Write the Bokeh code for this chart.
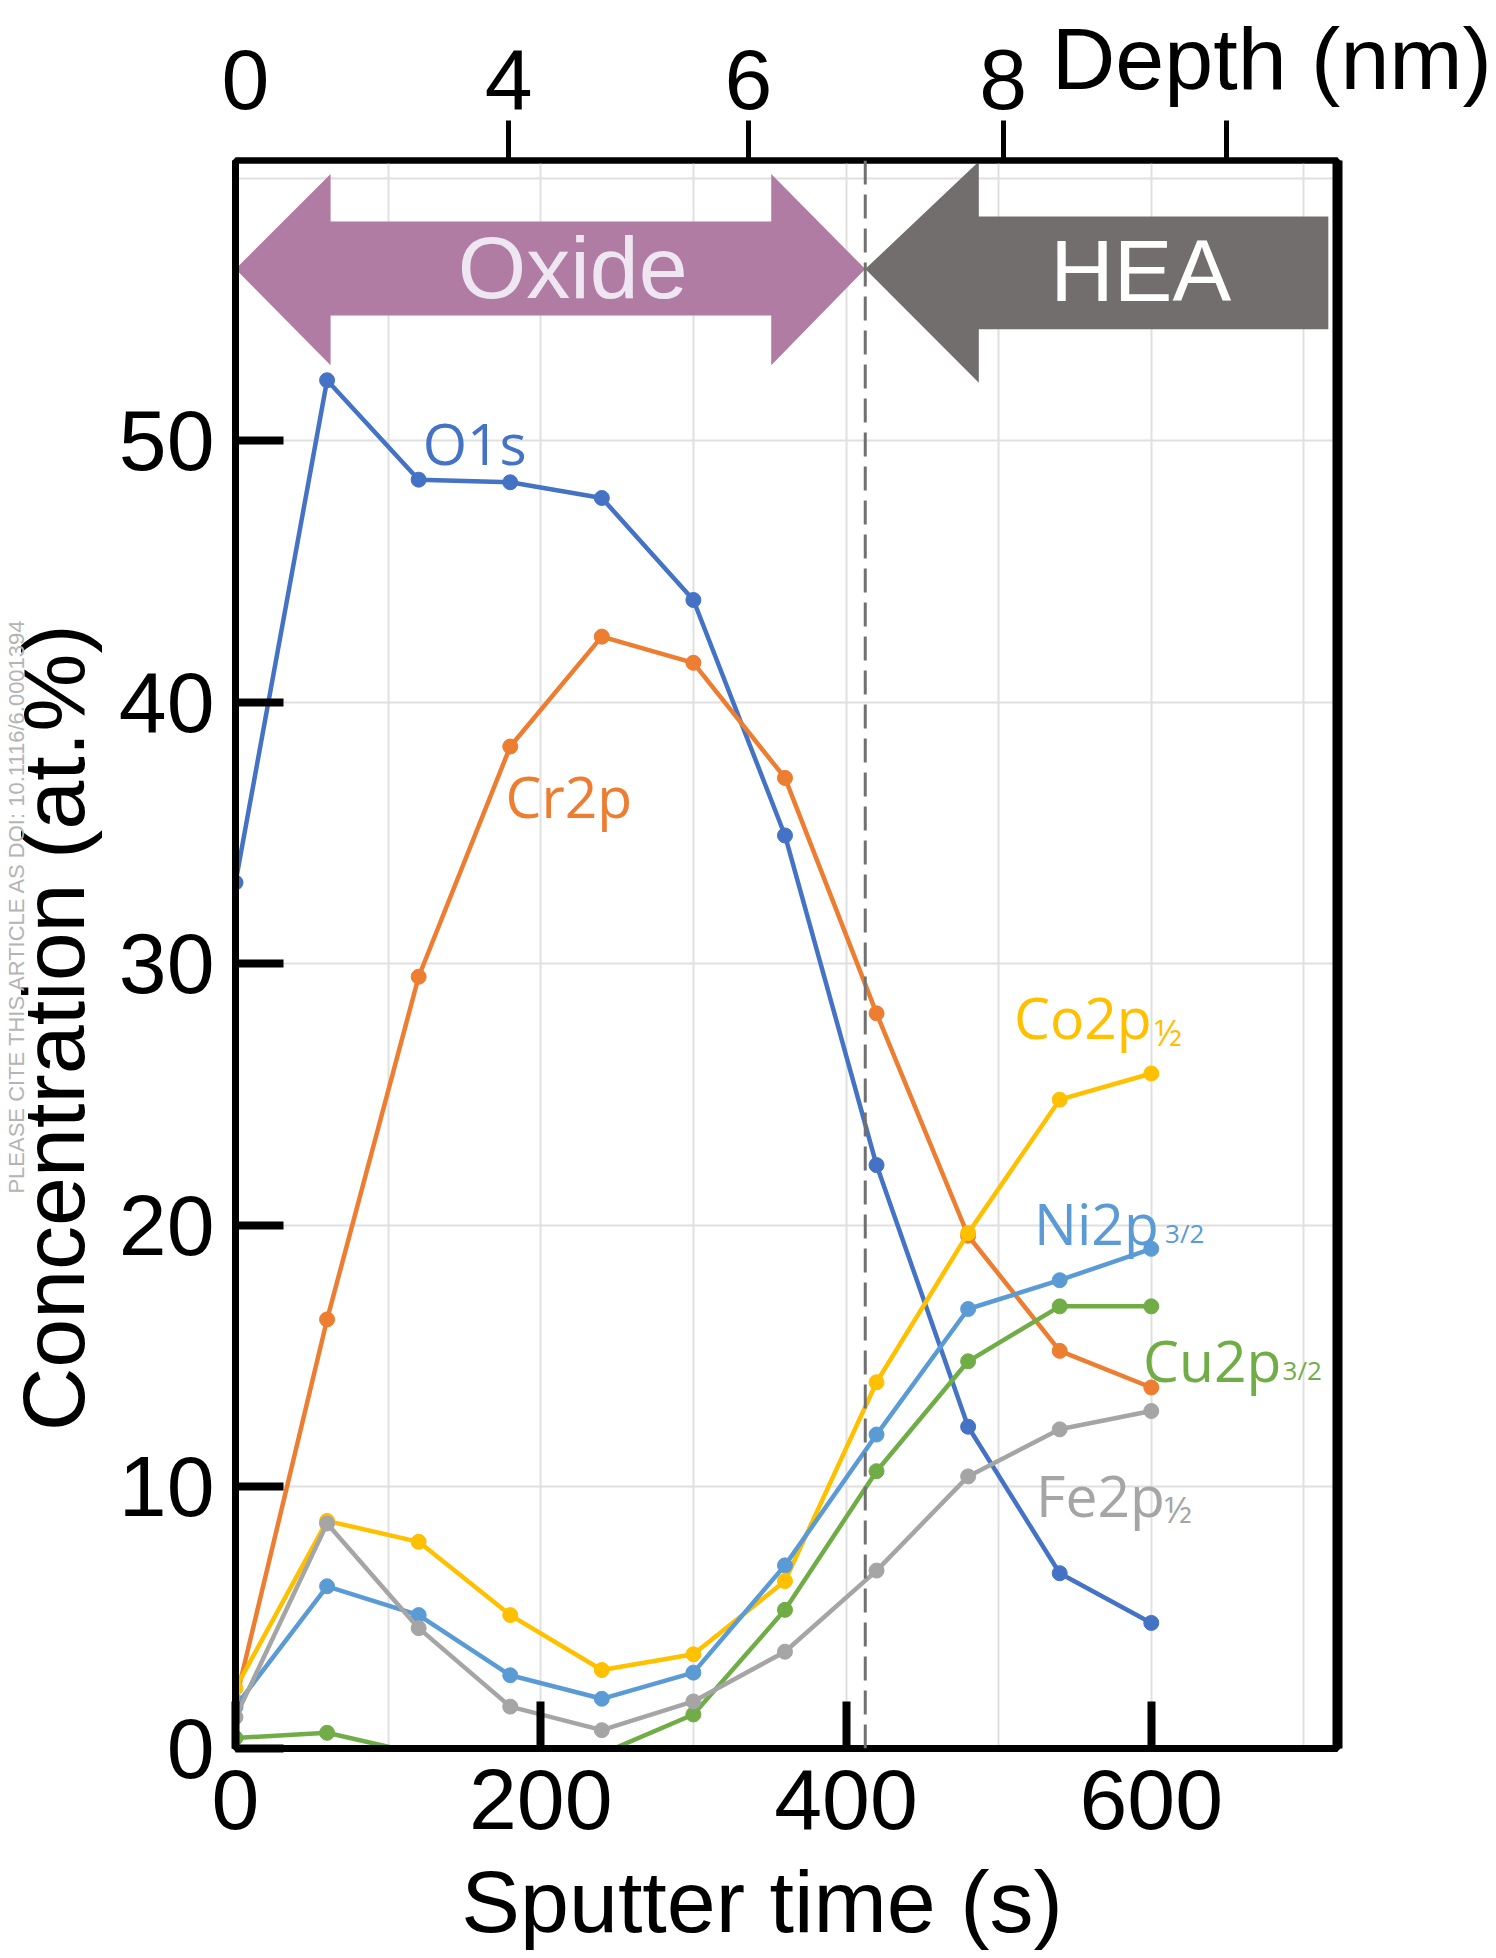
from bokeh.plotting import figure
from bokeh.models import LinearAxis, FixedTicker, Span, ColumnDataSource
from bokeh.core.properties import value
from bokeh.embed import file_html
from bokeh.resources import INLINE

# ---------------- data ----------------
sputter_time = [0, 60, 120, 180, 240, 300, 360, 420, 480, 540, 600]
o1s = [33.1, 52.3, 48.5, 48.4, 47.8, 43.9, 34.9, 22.3, 12.3, 6.7, 4.8]
cr2p = [1.8, 16.4, 29.5, 38.3, 42.5, 41.5, 37.1, 28.1, 19.6, 15.2, 13.8]
co2p = [2.3, 8.7, 7.9, 5.1, 3.0, 3.6, 6.4, 14.0, 19.7, 24.8, 25.8]
ni2p = [1.6, 6.2, 5.1, 2.8, 1.9, 2.9, 7.0, 12.0, 16.8, 17.9, 19.1]
cu2p = [0.4, 0.6, -0.2, -0.2, -0.2, 1.3, 5.3, 10.6, 14.8, 16.9, 16.9]
fe2p = [1.2, 8.6, 4.6, 1.6, 0.7, 1.8, 3.7, 6.8, 10.4, 12.2, 12.9]

y_ticks = [0, 10, 20, 30, 40, 50]
x_ticks = [0, 200, 400, 600]
depth_tick_pos = [179, 336, 503, 649]            # sputter-time positions of depth tick marks
depth_label_pos = [6.5, 179, 336, 503]
depth_labels = ["0", "4", "6", "8"]
depth_title_pos = 679
oxide_boundary = 412.6                            # s

series = [
    ("O1s", o1s, "#4472C4"),
    ("Cr2p", cr2p, "#ED7D31"),
    ("Co2p", co2p, "#FFC000"),
    ("Ni2p", ni2p, "#5B9BD5"),
    ("Cu2p", cu2p, "#70AD47"),
    ("Fe2p", fe2p, "#A5A5A5"),
]

# label placement: (main text, subscript, x, y, sub x, sub y, sub size, colour)
series_labels = [
    ("O1s", "", 122.6, 49.9, 0, 0, "", "#4472C4"),
    ("Cr2p", "", 176.9, 36.4, 0, 0, "", "#ED7D31"),
    ("Co2p", "\u00bd", 510.1, 27.95, 602.0, 27.35, "36px", "#FFC000"),
    ("Ni2p", "3/2", 523.2, 20.1, 609.0, 19.7, "26px", "#5B9BD5"),
    ("Cu2p", "3/2", 594.6, 14.86, 686.0, 14.45, "26px", "#70AD47"),
    ("Fe2p", "\u00bd", 524.5, 9.7, 608.5, 9.15, "36px", "#A5A5A5"),
]

AX_FONT = "Liberation Sans"
LBL_FONT = "Open Sans"

p = figure(width=1496, height=1958, x_range=(0, 722), y_range=(0, 60.7),
           output_backend="svg", toolbar_location=None,
           min_border_left=234, min_border_right=159, min_border_top=160, min_border_bottom=210)
p.background_fill_color = "white"
p.border_fill_color = "white"
p.outline_line_color = "black"
p.outline_line_width = 6

# grid
p.xgrid.ticker = FixedTicker(ticks=[100, 200, 300, 400, 500, 600, 700])
p.ygrid.ticker = FixedTicker(ticks=[10, 20, 30, 40, 50, 60])
for g in (p.xgrid, p.ygrid):
    g.grid_line_color = "#e0e0e0"
    g.grid_line_width = 2

# bottom axis
xa = p.xaxis[0]
xa.ticker = FixedTicker(ticks=x_ticks)
xa.axis_label = "Sputter time (s)\u00a0\u00a0"
xa.axis_line_width = 7
xa.major_tick_in = 47
xa.major_tick_out = 0
xa.major_tick_line_width = 8
xa.minor_tick_line_color = None
xa.major_label_text_font = AX_FONT
xa.major_label_text_font_size = "86px"
xa.major_label_text_color = "black"
xa.major_label_standoff = 21
xa.axis_label_text_font = AX_FONT
xa.axis_label_text_font_size = "88px"
xa.axis_label_text_font_style = "normal"
xa.axis_label_text_color = "black"
xa.axis_label_standoff = 20

# left axis
ya = p.yaxis[0]
ya.ticker = FixedTicker(ticks=y_ticks)
ya.axis_label = "Concentration (at.%)" + "\u00a0" * 6
ya.axis_line_width = 7
ya.major_tick_in = 48
ya.major_tick_out = 0
ya.major_tick_line_width = 8
ya.minor_tick_line_color = None
ya.major_label_text_font = AX_FONT
ya.major_label_text_font_size = "86px"
ya.major_label_text_color = "black"
ya.major_label_standoff = 21
ya.axis_label_text_font = AX_FONT
ya.axis_label_text_font_size = "88px"
ya.axis_label_text_font_style = "normal"
ya.axis_label_text_color = "black"
ya.axis_label_standoff = 13

# watermark (outer left)
wm = LinearAxis(ticker=FixedTicker(ticks=[]), axis_line_color=None,
                major_tick_line_color=None, minor_tick_line_color=None,
                axis_label="\u00a0" * 16 + "PLEASE CITE THIS ARTICLE AS DOI: 10.1116/6.0001394",
                axis_label_text_font=AX_FONT, axis_label_text_font_size="22px",
                axis_label_text_font_style="normal", axis_label_text_color="#B4B4B4",
                axis_label_standoff=-28)
p.add_layout(wm, "left")

# top depth axis: tick marks
top_ticks = LinearAxis(ticker=FixedTicker(ticks=depth_tick_pos),
                       major_label_overrides={k: "" for k in depth_tick_pos},
                       major_label_text_font_size="1px", major_label_standoff=0,
                       axis_line_width=6, major_tick_out=40, major_tick_in=0,
                       major_tick_line_width=5, minor_tick_line_color=None)
p.add_layout(top_ticks, "above")
# top depth axis: labels
top_labels = LinearAxis(ticker=FixedTicker(ticks=depth_label_pos),
                        major_label_overrides={k: v for k, v in zip(depth_label_pos, depth_labels)},
                        major_label_text_font=AX_FONT, major_label_text_font_size="86px",
                        major_label_text_color="black", major_label_standoff=6,
                        axis_line_color=None, major_tick_line_color=None,
                        minor_tick_line_color=None)
p.add_layout(top_labels, "above")
# top depth axis: title
top_title = LinearAxis(ticker=FixedTicker(ticks=[depth_title_pos]),
                       major_label_overrides={depth_title_pos: "Depth (nm)"},
                       major_label_text_font=AX_FONT, major_label_text_font_size="88px",
                       major_label_text_color="black", major_label_standoff=-67,
                       axis_line_color=None, major_tick_line_color=None,
                       minor_tick_line_color=None)
p.add_layout(top_title, "above")

# right frame
right = LinearAxis(ticker=FixedTicker(ticks=[]), axis_line_width=10,
                   major_tick_line_color=None, minor_tick_line_color=None)
p.add_layout(right, "right")

# region arrows (data-space geometry)
oxide_x = [0, 62.3, 62.3, 351, 351, oxide_boundary, 351, 351, 62.3, 62.3]
oxide_y = [56.55, 60.18, 58.37, 58.37, 60.18, 56.55, 52.87, 54.78, 54.78, 52.87]
p.patch(oxide_x, oxide_y, fill_color="#B07CA4", line_color=None)
hea_x = [oxide_boundary, 487, 487, 716, 716, 487, 487]
hea_y = [56.55, 60.66, 58.56, 58.56, 54.25, 54.25, 52.2]
p.patch(hea_x, hea_y, fill_color="#736E6E", line_color=None)

p.text(x=[221], y=[56.6], text=["Oxide"], text_font=value(AX_FONT), text_font_size="88px",
       text_align="center", text_baseline="middle", text_color="#EEE6F0")
p.text(x=[593], y=[56.5], text=["HEA"], text_font=value(AX_FONT), text_font_size="88px",
       text_align="center", text_baseline="middle", text_color="white")

# boundary
p.add_layout(Span(location=oxide_boundary, dimension="height", line_color="#707070",
                  line_width=3, line_dash="24 10"))

# data series
for name, ys, col in series:
    src = ColumnDataSource(dict(x=sputter_time, y=ys))
    p.line("x", "y", source=src, line_color=col, line_width=4.5)
    p.scatter("x", "y", source=src, marker="circle", size=15, fill_color=col, line_color=col)

# series labels
for main, sub, lx, ly, sx, sy, ssize, col in series_labels:
    p.text(x=[lx], y=[ly], text=[main], text_font=value(LBL_FONT), text_font_size="57px",
           text_align="left", text_baseline="alphabetic", text_color=col)
    if sub:
        p.text(x=[sx], y=[sy], text=[sub], text_font=value(LBL_FONT), text_font_size=ssize,
               text_align="left", text_baseline="alphabetic", text_color=col)

open("out.html", "w").write(file_html(p, INLINE))
